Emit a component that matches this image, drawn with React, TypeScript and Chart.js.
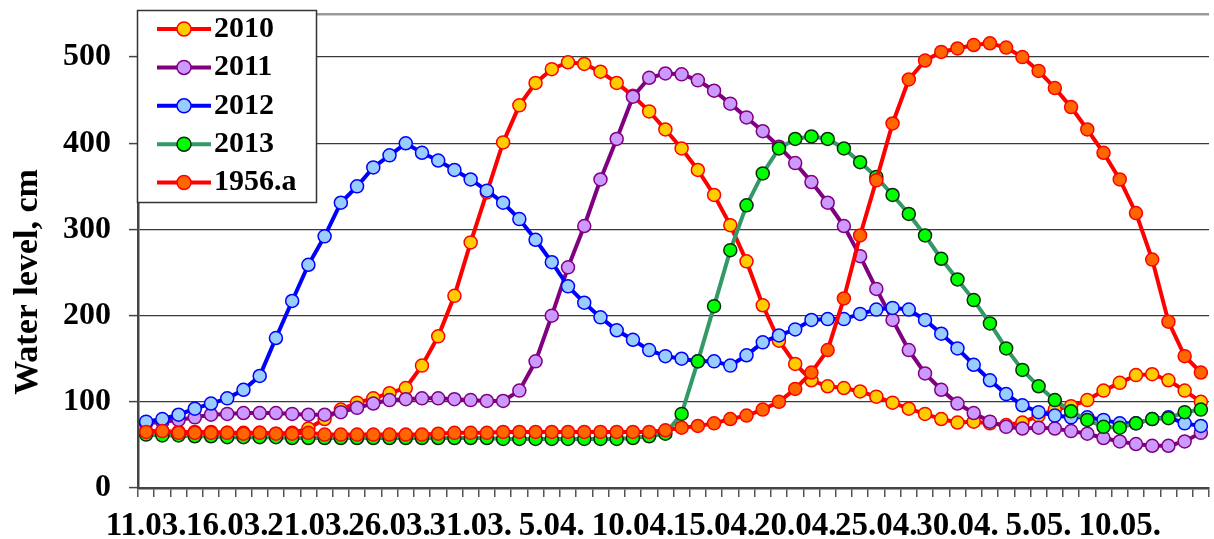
import { useEffect, useRef } from 'react';
import { Chart, registerables } from 'chart.js';

Chart.register(...registerables);

const FONT = '"Liberation Serif", "Times New Roman", Times, serif';

const categories = [
  '11.03.', '12.03.', '13.03.', '14.03.', '15.03.', '16.03.', '17.03.', '18.03.', '19.03.', '20.03.',
  '21.03.', '22.03.', '23.03.', '24.03.', '25.03.', '26.03.', '27.03.', '28.03.', '29.03.', '30.03.',
  '31.03.', '1.04.', '2.04.', '3.04.', '4.04.', '5.04.', '6.04.', '7.04.', '8.04.', '9.04.',
  '10.04.', '11.04.', '12.04.', '13.04.', '14.04.', '15.04.', '16.04.', '17.04.', '18.04.', '19.04.',
  '20.04.', '21.04.', '22.04.', '23.04.', '24.04.', '25.04.', '26.04.', '27.04.', '28.04.', '29.04.',
  '30.04.', '1.05.', '2.05.', '3.05.', '4.05.', '5.05.', '6.05.', '7.05.', '8.05.', '9.05.',
  '10.05.', '11.05.', '12.05.', '13.05.', '14.05.', '15.05.',
];

const y2010 = [
  66, 66, 65, 65, 65, 64, 64, 64, 63, 64,
  69, 80, 91, 99, 104, 110, 116, 142, 176, 223,
  285, 343, 401, 444, 470, 486, 494, 492, 483, 470,
  455, 437, 416, 394, 369, 340, 305, 263, 212, 171,
  144, 125, 118, 116, 112, 106, 99, 92, 86, 80,
  76, 77, 75, 73, 76, 84, 91, 95, 102, 113,
  122, 131, 132, 125, 113, 100,
];

const y2011 = [
  75, 77, 79, 82, 85, 86, 87, 87, 87, 86,
  85, 85, 88, 93, 98, 102, 103, 104, 104, 103,
  102, 101, 101, 113, 147, 200, 256, 304, 358, 405,
  454, 476, 481, 480, 473, 461, 446, 430, 414, 396,
  377, 355, 331, 304, 269, 231, 195, 160, 133, 114,
  98, 87, 77, 71, 69, 70, 69, 66, 63, 58,
  54, 51, 49, 49, 54, 64,
];

const y2012 = [
  77, 80, 85, 92, 98, 104, 114, 130, 174, 217,
  259, 292, 331, 350, 372, 386, 400, 389, 380, 369,
  358, 345, 331, 312, 288, 262, 234, 215, 198, 183,
  172, 160, 153, 150, 147, 147, 142, 154, 169, 177,
  184, 195, 196, 196, 202, 207, 209, 207, 195, 179,
  162, 143, 125, 109, 96, 88, 84, 82, 82, 79,
  75, 75, 80, 82, 75, 72,
];

const y2013 = [
  62, 61, 61, 60, 60, 59, 59, 59, 59, 58,
  58, 58, 58, 58, 58, 58, 58, 58, 58, 58,
  58, 58, 57, 57, 57, 57, 57, 57, 57, 57,
  58, 60, 63, 86, 147, 211, 276, 328, 365, 394,
  405, 408, 405, 394, 378, 361, 340, 318, 293, 266,
  242, 218, 191, 162, 137, 118, 102, 89, 79, 71,
  70, 75, 80, 81, 88, 91,
];

const y1956a = [
  65, 66, 64, 64, 64, 64, 63, 64, 63, 63,
  64, 62, 62, 62, 62, 62, 62, 62, 63, 64,
  64, 64, 65, 65, 65, 65, 65, 65, 65, 65,
  65, 65, 67, 70, 72, 75, 80, 84, 91, 100,
  115, 134, 160, 220, 293, 357, 423, 474, 496, 506,
  510, 514, 516, 511, 500, 484, 464, 442, 416, 389,
  358, 319, 265, 193, 153, 134,
];

const seriesNames = ['2010', '2011', '2012', '2013', '1956.a'];
const seriesValues = [y2010, y2011, y2012, y2013, y1956a];
const lineColors = ['#FF0000', '#800080', '#0000FF', '#339966', '#FF0000'];
const markerFills = ['#FFCC00', '#CC99FF', '#99CCFF', '#00FF00', '#FF6600'];
const markerBorders = ['#FF0000', '#800080', '#0000FF', '#0a2a0a', '#FF0000'];
const drawOrders = [5, 4, 3, 2, 1];

const yTicks = [0, 100, 200, 300, 400, 500];
const xLabelLastIndex = 60;
const yTitle = 'Water level, cm';

export default function App() {
  const ref = useRef<HTMLCanvasElement>(null);

  useEffect(() => {
    if (!ref.current) return;

    const overlay = {
      id: 'overlayLegend',
      afterDraw(chart: any) {
        const ctx = chart.ctx as CanvasRenderingContext2D;
        ctx.save();
        // legend box
        ctx.fillStyle = '#ffffff';
        ctx.fillRect(137, 10, 179, 192);
        ctx.strokeStyle = '#333333';
        ctx.lineWidth = 1.5;
        ctx.strokeRect(137.5, 10.5, 179, 192);
        seriesNames.forEach((name, k) => {
          const y = 29 + k * 38.4;
          ctx.strokeStyle = lineColors[k];
          ctx.lineWidth = 4;
          ctx.beginPath();
          ctx.moveTo(157, y);
          ctx.lineTo(211, y);
          ctx.stroke();
          ctx.beginPath();
          ctx.arc(184, y, 7, 0, Math.PI * 2);
          ctx.fillStyle = markerFills[k];
          ctx.fill();
          ctx.lineWidth = 1.5;
          ctx.strokeStyle = markerBorders[k];
          ctx.stroke();
          ctx.fillStyle = '#000000';
          ctx.font = `bold 30px ${FONT}`;
          ctx.textAlign = 'left';
          ctx.textBaseline = 'middle';
          ctx.fillText(name, 214, y);
        });
        // y axis title
        ctx.translate(37, 282);
        ctx.rotate(-Math.PI / 2);
        ctx.font = `bold 34px ${FONT}`;
        ctx.textAlign = 'center';
        ctx.textBaseline = 'alphabetic';
        ctx.fillStyle = '#000000';
        ctx.fillText(yTitle, 0, 0);
        ctx.restore();
      },
    };

    const chart = new Chart(ref.current, {
      type: 'line',
      data: {
        labels: categories,
        datasets: seriesNames.map((name, k) => ({
          label: name,
          data: seriesValues[k],
          borderColor: lineColors[k],
          backgroundColor: markerFills[k],
          pointBackgroundColor: markerFills[k],
          pointBorderColor: markerBorders[k],
          pointBorderWidth: 1.5,
          pointRadius: 6.5,
          borderWidth: 4,
          tension: 0,
          fill: false,
          order: drawOrders[k],
        })),
      },
      options: {
        responsive: false,
        animation: false,
        events: [],
        layout: { padding: { top: 14, left: 0, right: 0, bottom: 0 } },
        plugins: {
          legend: { display: false },
          tooltip: { enabled: false },
        },
        scales: {
          x: {
            type: 'category',
            offset: true,
            grid: {
              offset: true,
              drawOnChartArea: false,
              drawTicks: true,
              tickLength: 9,
              color: '#555555',
              lineWidth: 1.5,
            },
            border: { display: true, color: '#444444', width: 2.5 },
            ticks: {
              autoSkip: false,
              maxRotation: 0,
              minRotation: 0,
              padding: 10,
              color: '#000000',
              font: { family: FONT, size: 33, weight: 'bold' },
              callback: (_v: any, i: number) =>
                i % 5 === 0 && i <= xLabelLastIndex ? categories[i] : '',
            },
            afterFit: (s: any) => {
              s.height = 51;
              s.paddingLeft = 0;
              s.paddingRight = 0;
            },
          },
          y: {
            min: 0,
            max: 550,
            ticks: {
              stepSize: 100,
              padding: 18,
              color: '#000000',
              font: { family: FONT, size: 32, weight: 'bold' },
              callback: (v: any) => (yTicks.includes(Number(v)) ? String(v) : ''),
            },
            grid: {
              color: (c: any) => (c.tick && c.tick.value === 550 ? '#9a9a9a' : '#3a3a3a'),
              lineWidth: (c: any) => (c.tick && c.tick.value === 550 ? 2.5 : 1.2),
              tickLength: 9,
              tickColor: (c: any) => (c.tick && c.tick.value === 550 ? 'rgba(0,0,0,0)' : '#444444'),
              tickWidth: 1.5,
            },
            border: { display: true, color: '#444444', width: 2.5 },
            afterFit: (s: any) => {
              s.width = 138;
              s.paddingTop = 0;
              s.paddingBottom = 0;
            },
          },
        },
      },
      plugins: [overlay],
    } as any);

    return () => chart.destroy();
  }, []);

  return (
    <div
      style={{
        position: 'absolute',
        left: 0,
        top: 0,
        width: 1214,
        height: 539,
        overflow: 'hidden',
        background: '#ffffff',
      }}
    >
      <canvas ref={ref} width={1217} height={539} style={{ display: 'block' }} />
    </div>
  );
}
